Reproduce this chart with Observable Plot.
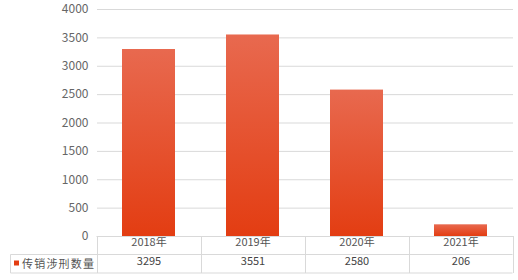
<!DOCTYPE html>
<html>
<head>
<meta charset="utf-8">
<script src="https://cdn.jsdelivr.net/npm/d3@7"></script>
<script src="https://cdn.jsdelivr.net/npm/@observablehq/plot@0.6"></script>
<style>
  html, body { margin: 0; padding: 0; background: #fff; }
  #chart svg { display: block; }
</style>
</head>
<body>
<div id="chart"></div>
<script>
const categories = ["2018年", "2019年", "2020年", "2021年"];
const values = [3295, 3551, 2580, 206];
const yTicks = [0, 500, 1000, 1500, 2000, 2500, 3000, 3500, 4000];
const seriesName = "传销涉刑数量";

const data = categories.map((c, i) => ({ year: c, value: values[i] }));

const W = 518, H = 280;
const mL = 97, mR = 5, mT = 9, mB = 44;
const font = "'Noto Sans CJK SC', 'Liberation Sans', sans-serif";

const defs = () => {
  const d = d3.create("svg:defs");
  const g = d.append("linearGradient").attr("id", "barGrad")
    .attr("x1", 0).attr("y1", 0).attr("x2", 0).attr("y2", 1);
  g.append("stop").attr("offset", "0%").attr("stop-color", "#e8694f");
  g.append("stop").attr("offset", "100%").attr("stop-color", "#e33d12");
  return d.node();
};

const chart = Plot.plot({
  width: W,
  height: H,
  marginLeft: mL,
  marginRight: mR,
  marginTop: mT,
  marginBottom: mB,
  style: { fontFamily: font, fontSize: "12px", color: "#666", background: "#fff" },
  x: { domain: categories, paddingInner: 0.49, paddingOuter: 0.245, axis: null },
  y: { domain: [0, 4000], ticks: yTicks, axis: null },
  marks: [
    defs,
    Plot.gridY(yTicks, { stroke: "#d9d9d9", strokeOpacity: 1 }),
    Plot.axisY(yTicks, { tickSize: 0, tickPadding: 9, fill: "#666", fontSize: 12, label: null, tickFormat: d => String(d) }),
    Plot.barY(data, { x: "year", y: "value", fill: "url(#barGrad)" }),
    Plot.text(data, { x: "year", text: "year", frameAnchor: "bottom", dy: 9, fill: "#555", fontSize: 11 }),
    Plot.text(data, { x: "year", text: d => String(d.value), frameAnchor: "bottom", dy: 28, fill: "#444", fontSize: 11 })
  ]
});

// Table borders derived from the x scale
const xs = chart.scale("x");
const ys = chart.scale("y");
const step = xs.step;
const x0 = xs.apply(categories[0]) - (step - xs.bandwidth) / 2;
const x1 = x0 + step * categories.length;
const yBase = ys.apply(0);
const rowH = 18.5;
const sel = d3.select(chart);
const g = sel.append("g").attr("stroke", "#d9d9d9").attr("stroke-width", 1).attr("fill", "none");
const line = (a, b, c, d) => g.append("line").attr("x1", a).attr("y1", b).attr("x2", c).attr("y2", d);
const legendLeft = 10.5;
line(x0, yBase + 0.5, x1, yBase + 0.5);
line(legendLeft, yBase + rowH, x1, yBase + rowH);
line(legendLeft, yBase + 2 * rowH, x1, yBase + 2 * rowH);
line(legendLeft, yBase + rowH, legendLeft, yBase + 2 * rowH);
for (let i = 0; i <= categories.length; i++) {
  const x = Math.round(x0 + i * step) + 0.5;
  line(x, yBase, x, yBase + 2 * rowH);
}
// legend in table
const lg = sel.append("g").attr("font-family", font).attr("text-anchor", "start");
lg.append("rect").attr("x", 14).attr("y", yBase + rowH + 6).attr("width", 5).attr("height", 5).attr("fill", "#e33d12");
lg.append("text").attr("x", 22).attr("y", yBase + rowH + 13).attr("font-size", 11).attr("fill", "#555")
  .attr("letter-spacing", 1.2).text(seriesName);

document.getElementById("chart").appendChild(chart);
</script>
</body>
</html>
